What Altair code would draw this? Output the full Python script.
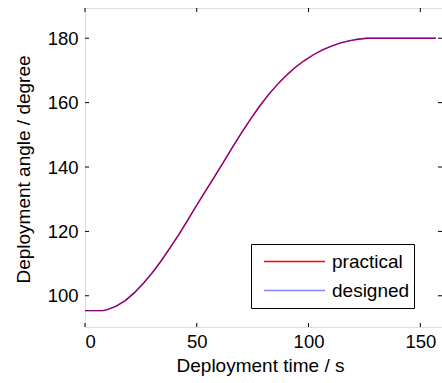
import altair as alt
import pandas as pd

# Deployment time (s) and angle (degree)
time_s = [0, 4, 8, 10, 14, 18, 22, 26, 30, 34, 38, 42, 46, 50, 54, 58, 62, 66,
          70, 74, 78, 82, 86, 90, 94, 98, 102, 106, 110, 114, 118, 122, 126,
          135, 145, 157]
designed = [95.4, 95.4, 95.4, 95.7, 96.8, 98.5, 100.9, 103.7, 107.0, 110.7,
            114.8, 119.0, 123.5, 128.1, 132.6, 137.0, 141.5, 146.2, 150.6,
            154.8, 158.8, 162.4, 165.6, 168.4, 170.9, 173.0, 174.8, 176.3,
            177.5, 178.5, 179.2, 179.7, 180.0, 180.0, 180.0, 180.0]
practical = [95.4, 95.4, 95.4, 95.7, 96.8, 98.5, 100.9, 103.8, 107.1, 110.8,
             114.9, 119.1, 123.6, 128.2, 132.7, 137.1, 141.6, 146.2, 150.6,
             154.8, 158.8, 162.4, 165.6, 168.4, 170.9, 173.0, 174.8, 176.3,
             177.5, 178.5, 179.2, 179.7, 180.0, 180.0, 180.0, 180.0]
series = ["practical", "designed"]
colors = ["#ff0000", "#0000ff"]
opacities = [1.0, 0.48]
x_ticks = [0, 50, 100, 150]
y_ticks = [100, 120, 140, 160, 180]

df_p = pd.DataFrame({"t": time_s, "a": practical, "s": "practical"})
df_d = pd.DataFrame({"t": time_s, "a": designed, "s": "designed"})
df_xt = pd.DataFrame({"t": x_ticks})
df_yt = pd.DataFrame({"a": y_ticks})

W, H = 357, 319
FONT = "Liberation Sans"

xs = alt.Scale(domain=[0, 159.7], nice=False, zero=False)
ys = alt.Scale(domain=[90.3, 189.4], nice=False, zero=False)

x_enc = alt.X("t:Q", scale=xs, title="Deployment time / s",
              axis=alt.Axis(values=x_ticks, ticks=False, domain=False, grid=False,
                            labelPadding=5, labelFontSize=18.5, labelColor="black",
                            titleFontSize=19, titleFontWeight="normal", titleColor="black",
                            titleBaseline="alphabetic", titleY=44, titleX=175))
y_enc = alt.Y("a:Q", scale=ys, title="Deployment angle / degree",
              axis=alt.Axis(values=y_ticks, ticks=False, domain=False, grid=False,
                            labelPadding=7, labelFontSize=18.5, labelColor="black",
                            titleFontSize=19, titleFontWeight="normal", titleColor="black",
                            titleBaseline="alphabetic", titleX=-56, titleY=161))

leg = alt.Legend(title=None, orient="none", legendX=166, legendY=236,
                 symbolType="stroke", symbolSize=3721,
                 symbolStrokeWidth=1.5, symbolFillColor="transparent", clipHeight=27,
                 labelFontSize=19, labelFont=FONT, labelColor="black",
                 labelOffset=6, symbolOffset=8, padding=4,
                 strokeColor="black", fillColor="white")
color_enc = alt.Color("s:N", scale=alt.Scale(domain=series, range=colors), legend=leg)
opac_enc = alt.Opacity("s:N", scale=alt.Scale(domain=series, range=opacities), legend=leg)

line_p = alt.Chart(df_p).mark_line(strokeWidth=1.4).encode(
    x=x_enc, y=y_enc, color=color_enc, opacity=opac_enc)
line_d = alt.Chart(df_d).mark_line(strokeWidth=1.4).encode(
    x=alt.X("t:Q", scale=xs), y=alt.Y("a:Q", scale=ys), color=color_enc, opacity=opac_enc)

yt_left = alt.Chart(df_yt).mark_rule(color="black").encode(
    y=alt.Y("a:Q", scale=ys), x=alt.value(0), x2=alt.value(4))
yt_right = alt.Chart(df_yt).mark_rule(color="black").encode(
    y=alt.Y("a:Q", scale=ys), x=alt.value(W - 4), x2=alt.value(W))
xt_bot = alt.Chart(df_xt).mark_rule(color="black").encode(
    x=alt.X("t:Q", scale=xs), y=alt.value(H - 4), y2=alt.value(H))
xt_top = alt.Chart(df_xt).mark_rule(color="black").encode(
    x=alt.X("t:Q", scale=xs), y=alt.value(0), y2=alt.value(4))

chart = alt.layer(line_p, line_d, yt_left, yt_right, xt_bot, xt_top).properties(
    width=W, height=H,
    padding={"left": 85, "top": 8, "right": 0, "bottom": 56},
    autosize="none",
).configure_view(stroke="black", strokeWidth=1.2).configure_axis(
    labelFont=FONT, titleFont=FONT
).configure(background="white")

chart.save("out.html", embed_options={"renderer": "svg", "actions": False})
